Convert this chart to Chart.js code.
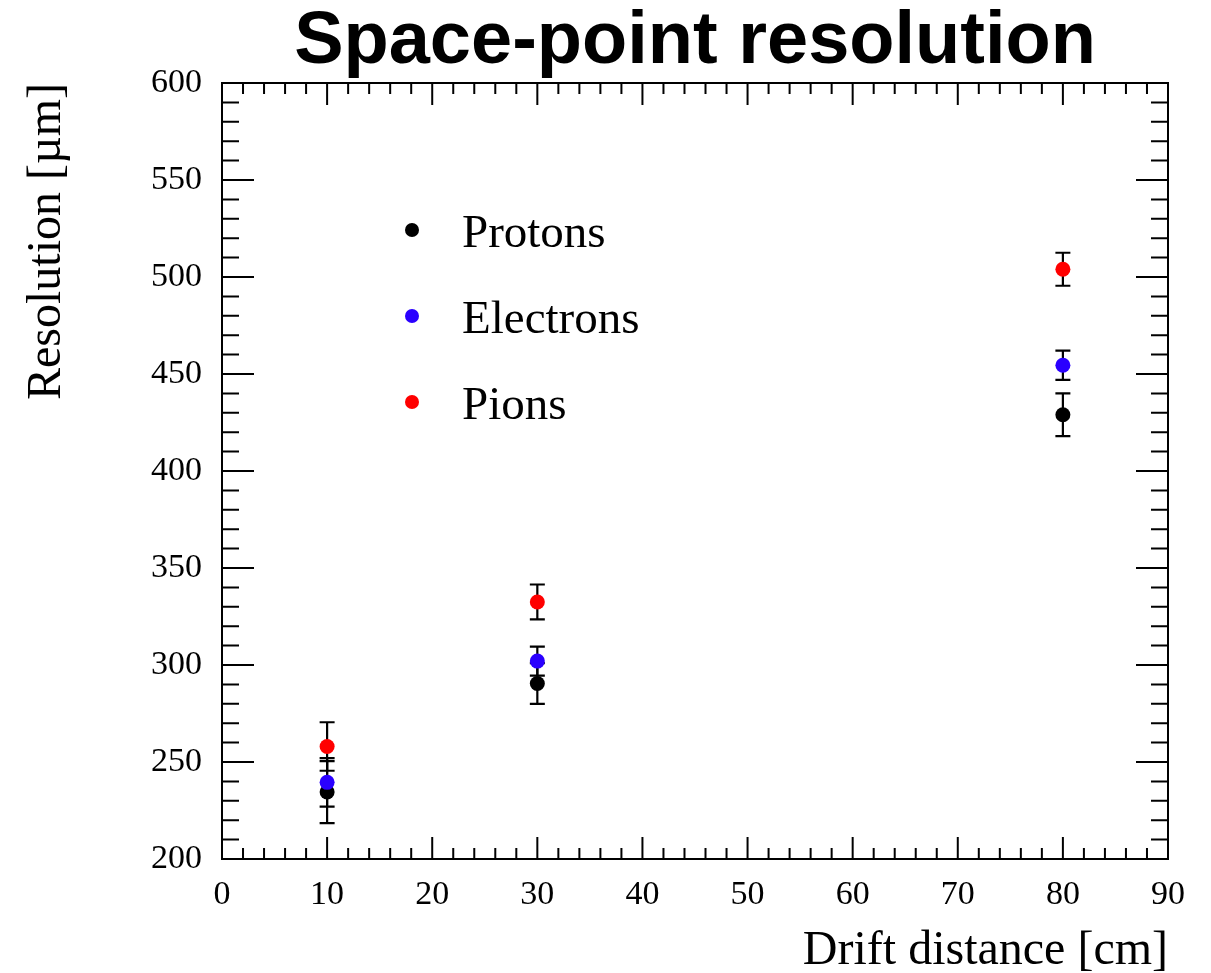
<!DOCTYPE html>
<html>
<head>
<meta charset="utf-8">
<script src="https://cdn.jsdelivr.net/npm/chart.js@4.4.1/dist/chart.umd.min.js"></script>
<style>
  html, body { margin: 0; padding: 0; background: #fff; }
  #wrap { width: 1211px; height: 973px; }
</style>
</head>
<body>
<div id="wrap"><canvas id="res-chart" width="1211" height="973"></canvas></div>
<script>
// drift distances [cm]
const drift = [10, 30, 80];

// space-point resolution [um] and its uncertainty
const protonRes = [234.5, 290.5, 429];
const protonErr = [16, 10.5, 11];
const electronRes = [239.5, 302, 454.5];
const electronErr = [12.5, 7.5, 7.5];
const pionRes = [258, 332.5, 504];
const pionErr = [12.5, 9, 8.5];

const seriesNames = ['Protons', 'Electrons', 'Pions'];
const seriesColors = ['#000000', '#2a00ff', '#ff0000'];

const xMin = 0, xMax = 90, xStep = 10;
const yMin = 200, yMax = 600, yStep = 50;

const serif = "'Liberation Serif', 'Times New Roman', serif";

function toPoints(ys) {
    return drift.map((x, i) => ({ x: x, y: ys[i] }));
}

const errors = [protonErr, electronErr, pionErr];

// error bars go in just before each dataset's markers
const errorBars = {
    id: 'errorBars',
    beforeDatasetDraw(chart, args) {
        const ctx = chart.ctx;
        const xs = chart.scales.x, ys = chart.scales.y;
        const ds = chart.data.datasets[args.index];
        const err = errors[args.index];
        ctx.save();
        ctx.strokeStyle = '#000';
        ctx.lineWidth = 2.2;
        ds.data.forEach((p, i) => {
            const px = xs.getPixelForValue(p.x);
            const top = ys.getPixelForValue(p.y + err[i]);
            const bot = ys.getPixelForValue(p.y - err[i]);
            ctx.beginPath();
            ctx.moveTo(px, top);
            ctx.lineTo(px, bot);
            ctx.moveTo(px - 7.5, top);
            ctx.lineTo(px + 7.5, top);
            ctx.moveTo(px - 7.5, bot);
            ctx.lineTo(px + 7.5, bot);
            ctx.stroke();
        });
        ctx.restore();
    }
};

// box frame with inward ticks on all four sides
const frameTicks = {
    id: 'frameTicks',
    afterDatasetsDraw(chart) {
        const ctx = chart.ctx;
        const a = chart.chartArea;
        const xs = chart.scales.x, ys = chart.scales.y;
        ctx.save();
        ctx.strokeStyle = '#000';
        ctx.lineWidth = 2;
        ctx.strokeRect(a.left, a.top, a.right - a.left, a.bottom - a.top);
        ctx.beginPath();
        for (let v = xMin; v <= xMax + 1e-9; v += 2) {
            const px = xs.getPixelForValue(v);
            const len = (v % xStep === 0) ? 22 : 11;
            ctx.moveTo(px, a.bottom); ctx.lineTo(px, a.bottom - len);
            ctx.moveTo(px, a.top); ctx.lineTo(px, a.top + len);
        }
        for (let v = yMin; v <= yMax + 1e-9; v += 10) {
            const py = ys.getPixelForValue(v);
            const len = (v % yStep === 0) ? 32 : 17;
            ctx.moveTo(a.left, py); ctx.lineTo(a.left + len, py);
            ctx.moveTo(a.right, py); ctx.lineTo(a.right - len, py);
        }
        ctx.stroke();
        ctx.restore();
    }
};

// legend inside the frame, upper left
const innerLegend = {
    id: 'innerLegend',
    afterDraw(chart) {
        const ctx = chart.ctx;
        ctx.save();
        ctx.font = '47px ' + serif;
        ctx.textAlign = 'left';
        ctx.textBaseline = 'alphabetic';
        chart.data.datasets.forEach((ds, i) => {
            const cy = 230 + i * 86;
            ctx.fillStyle = ds.backgroundColor;
            ctx.beginPath();
            ctx.arc(412, cy, 7, 0, Math.PI * 2);
            ctx.fill();
            ctx.fillStyle = '#000';
            ctx.fillText(ds.label, 462, cy + 17);
        });
        ctx.restore();
    }
};

const seriesValues = [protonRes, electronRes, pionRes];

const datasets = seriesNames.map((name, i) => ({
    label: name,
    data: toPoints(seriesValues[i]),
    backgroundColor: seriesColors[i],
    borderColor: seriesColors[i],
    pointRadius: 7.5,
    pointBorderWidth: 0,
    showLine: false,
    order: 3 - i
}));

const ctx = document.getElementById('res-chart').getContext('2d');
new Chart(ctx, {
    type: 'scatter',
    data: { datasets },
    options: {
        responsive: false,
        animation: false,
        layout: { padding: { left: 0, right: 43, top: 0, bottom: 0 } },
        plugins: {
            legend: { display: false },
            tooltip: { enabled: false },
            title: {
                display: true,
                text: 'Space-point resolution',
                color: '#000',
                fullSize: false,
                font: { family: "'Liberation Sans', Arial, sans-serif", size: 74, weight: 'bold', lineHeight: 1 },
                padding: { top: 6, bottom: 3 }
            }
        },
        scales: {
            x: {
                type: 'linear',
                min: xMin,
                max: xMax,
                grid: { display: false, drawTicks: false },
                border: { display: false },
                ticks: {
                    stepSize: xStep,
                    color: '#000',
                    padding: 16,
                    maxRotation: 0,
                    font: { family: serif, size: 34 }
                },
                title: {
                    display: true,
                    text: 'Drift distance [cm]',
                    align: 'end',
                    color: '#000',
                    font: { family: serif, size: 48, lineHeight: 1 },
                    padding: { top: 0, bottom: -2 }
                },
                afterFit(scale) { scale.height = 114; }
            },
            y: {
                type: 'linear',
                min: yMin,
                max: yMax,
                grid: { display: false, drawTicks: false },
                border: { display: false },
                ticks: {
                    stepSize: yStep,
                    color: '#000',
                    padding: 20,
                    font: { family: serif, size: 34 }
                },
                title: {
                    display: true,
                    text: 'Resolution [\u00b5m]',
                    align: 'end',
                    color: '#000',
                    font: { family: serif, size: 48, lineHeight: 1 },
                    padding: { top: 23, bottom: 0 }
                },
                afterFit(scale) { scale.width = 222; }
            }
        }
    },
    plugins: [errorBars, frameTicks, innerLegend]
});
</script>
</body>
</html>
